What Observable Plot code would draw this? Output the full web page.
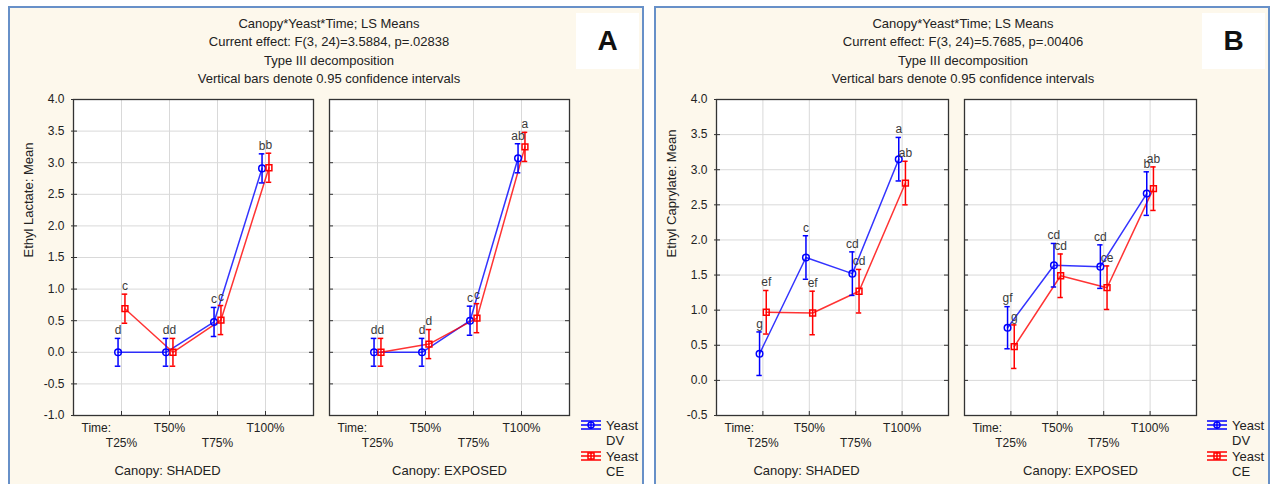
<!DOCTYPE html>
<html>
<head>
<meta charset="utf-8">
<script src="https://cdn.jsdelivr.net/npm/d3@7"></script>
<script src="https://cdn.jsdelivr.net/npm/@observablehq/plot@0.6"></script>
<style>
  body { margin: 0; background: #fff; font-family: "Liberation Sans", Arial, sans-serif; }
  #page { position: relative; width: 1274px; height: 484px; overflow: hidden; }
  .panel { position: absolute; top: 6px; height: 500px; box-sizing: border-box; border: 2px solid #6790c8; background: #fdf8ec; }
  .title { position: absolute; top: 15px; width: 420px; text-align: center; font-size: 13px; line-height: 18.4px; color: #222; }
  .tag { position: absolute; top: 13px; width: 63px; height: 56px; background: #fff; color: #111;
         font: bold 28px "Liberation Sans", Arial, sans-serif; display: flex; align-items: center; justify-content: center; }
  .sub, .legend { position: absolute; }
</style>
</head>
<body>
<div id="page"></div>
<script>
// Factor levels
const times = ["T25%", "T50%", "T75%", "T100%"];
const yeasts = ["DV", "CE"];
const canopies = ["SHADED", "EXPOSED"];

// Ethyl lactate LS means, 95% CI half-widths and significance groups
const lactateShadedDV = [0.00, 0.00, 0.48, 2.91];
const lactateShadedCE = [0.69, 0.00, 0.51, 2.92];
const lactateExposedDV = [0.00, 0.00, 0.50, 3.07];
const lactateExposedCE = [0.00, 0.13, 0.54, 3.25];
const lactateShadedDVci = [0.22, 0.22, 0.23, 0.23];
const lactateShadedCEci = [0.23, 0.22, 0.23, 0.23];
const lactateExposedDVci = [0.22, 0.22, 0.23, 0.23];
const lactateExposedCEci = [0.22, 0.23, 0.23, 0.23];
const lactateShadedDVgroup = ["d", "d", "c", "b"];
const lactateShadedCEgroup = ["c", "d", "c", "b"];
const lactateExposedDVgroup = ["d", "d", "c", "ab"];
const lactateExposedCEgroup = ["d", "d", "c", "a"];

// Ethyl caprylate LS means, 95% CI half-widths and significance groups
const caprylateShadedDV = [0.38, 1.75, 1.52, 3.15];
const caprylateShadedCE = [0.97, 0.96, 1.27, 2.81];
const caprylateExposedDV = [0.75, 1.64, 1.62, 2.66];
const caprylateExposedCE = [0.48, 1.49, 1.32, 2.73];
const caprylateShadedDVci = [0.31, 0.31, 0.31, 0.31];
const caprylateShadedCEci = [0.31, 0.31, 0.31, 0.31];
const caprylateExposedDVci = [0.30, 0.31, 0.31, 0.31];
const caprylateExposedCEci = [0.31, 0.31, 0.31, 0.31];
const caprylateShadedDVgroup = ["g", "c", "cd", "a"];
const caprylateShadedCEgroup = ["ef", "ef", "cd", "ab"];
const caprylateExposedDVgroup = ["gf", "cd", "cd", "b"];
const caprylateExposedCEgroup = ["g", "cd", "ce", "ab"];

// Axis ticks
const lactateTicks = [-1.0, -0.5, 0.0, 0.5, 1.0, 1.5, 2.0, 2.5, 3.0, 3.5, 4.0];
const caprylateTicks = [-0.5, 0.0, 0.5, 1.0, 1.5, 2.0, 2.5, 3.0, 3.5, 4.0];

const FONT = "'Liberation Sans', Arial, sans-serif";
const page = document.getElementById("page");

// Rows for one canopy sub-plot: each yeast series, dodged left/right of the time position
function buildRows(dv, dvCi, dvGroup, ce, ceCi, ceGroup) {
  const rows = [];
  const series = {DV: [dv, dvCi, dvGroup], CE: [ce, ceCi, ceGroup]};
  for (const yeast of yeasts) {
    const [m, ci, g] = series[yeast];
    times.forEach((t, i) => {
      rows.push({
        time: t, yeast, idx: i + 1,
        pos: i + 1 + (yeast === "DV" ? -0.072 : 0.072),
        mean: m[i], lo: m[i] - ci[i], hi: m[i] + ci[i], letter: g[i]
      });
    });
  }
  return rows;
}

function subplot({rows, yDomain, yTicks, frameLeft, frameRight, yLabel, canopy, canopyShift}) {
  const mL = 60, mR = 8, mT = 10, mB = 69;
  const top = 89, bottom = 484;
  const plotW = frameRight - frameLeft, plotH = bottom - top - mT - mB;
  const timeIdx = times.map((t, i) => ({label: t, idx: i + 1}));
  const cap = 0.058;
  const chart = Plot.plot({
    width: plotW + mL + mR,
    height: bottom - top,
    marginLeft: mL, marginRight: mR, marginTop: mT, marginBottom: mB,
    x: {domain: [0, 5], axis: null},
    y: {domain: yDomain, axis: null},
    color: {domain: yeasts, range: ["#0000ff", "#ff0000"]},
    symbol: {domain: yeasts, range: ["circle", "square"]},
    style: {fontFamily: FONT, fontSize: "12px", background: "transparent", overflow: "visible", color: "#222"},
    marks: [
      Plot.frame({fill: "#fff", stroke: null}),
      Plot.gridX(timeIdx.map(d => d.idx), {stroke: "#d9d9d9", strokeOpacity: 1}),
      Plot.gridY(yTicks, {stroke: "#d9d9d9", strokeOpacity: 1}),
      Plot.ruleY(yTicks, {stroke: "#333", insetLeft: yLabel ? -2 : 0, insetRight: plotW - 4}),
      Plot.ruleY(yTicks, {stroke: "#333", insetLeft: plotW - 4}),
      Plot.ruleX(timeIdx.map(d => d.idx), {stroke: "#333", insetTop: plotH - 4}),
      Plot.frame({stroke: "#333", strokeWidth: 1.3}),
      yLabel ? Plot.axisY(yTicks, {anchor: "left", tickSize: 0, tickPadding: 9, tickFormat: d => d.toFixed(1),
                                   fontSize: 12, fill: "#222", label: null}) : null,
      yLabel ? Plot.text([yLabel], {frameAnchor: "left", rotate: -90, dx: -45, fontSize: 13, fill: "#222"}) : null,
      Plot.line(rows, {x: "pos", y: "mean", z: "yeast", stroke: "yeast", strokeWidth: 1.5, strokeOpacity: 0.8}),
      Plot.ruleX(rows, {x: "pos", y1: "lo", y2: "hi", stroke: "yeast", strokeWidth: 1.5}),
      Plot.ruleY(rows, {y: "hi", x1: d => d.pos - cap, x2: d => d.pos + cap, stroke: "yeast", strokeWidth: 1.5}),
      Plot.ruleY(rows, {y: "lo", x1: d => d.pos - cap, x2: d => d.pos + cap, stroke: "yeast", strokeWidth: 1.5}),
      Plot.dot(rows, {x: "pos", y: "mean", symbol: "yeast", stroke: "yeast", r: 3.3, strokeWidth: 1.5, fill: "none"}),
      Plot.text(rows, {x: "pos", y: "hi", text: "letter", dy: -8, fontSize: 12, fill: "#3a3a3a"}),
      Plot.text(["Time:"], {frameAnchor: "bottom-left", textAnchor: "start", dx: 8, dy: 16, fontSize: 12, fill: "#222"}),
      Plot.text(timeIdx.filter(d => d.idx % 2 === 0), {x: "idx", text: "label", frameAnchor: "bottom", dy: 16, fontSize: 12, fill: "#222"}),
      Plot.text(timeIdx.filter(d => d.idx % 2 === 1), {x: "idx", text: "label", frameAnchor: "bottom", dy: 31, fontSize: 12, fill: "#222"}),
      Plot.text([`Canopy: ${canopy}`], {frameAnchor: "bottom", dx: canopyShift, dy: 59, fontSize: 13, fill: "#222"})
    ]
  });
  chart.classList.add("sub");
  chart.style.left = (frameLeft - mL) + "px";
  chart.style.top = top + "px";
  return chart;
}

function legend(left) {
  const svg = d3.create("svg").attr("class", "legend").attr("width", 70).attr("height", 66)
    .style("left", left + "px").style("top", "415px").style("font-family", FONT);
  const entries = [{yeast: "DV", color: "#0000ff", y: 10}, {yeast: "CE", color: "#ff0000", y: 41}];
  for (const e of entries) {
    const g = svg.append("g").attr("stroke", e.color).attr("stroke-width", 1.5).attr("fill", "none");
    for (const dy of [-4, 0, 4]) g.append("line").attr("x1", 1).attr("x2", 21).attr("y1", e.y + dy).attr("y2", e.y + dy);
    g.append("line").attr("x1", 11).attr("x2", 11).attr("y1", e.y - 4).attr("y2", e.y + 4);
    if (e.yeast === "DV") g.append("circle").attr("cx", 11).attr("cy", e.y).attr("r", 3);
    else g.append("rect").attr("x", 8).attr("y", e.y - 3).attr("width", 6).attr("height", 6);
    svg.append("text").attr("x", 26).attr("y", e.y).attr("dy", "0.35em").attr("font-size", 13).attr("fill", "#222").text("Yeast");
    svg.append("text").attr("x", 26).attr("y", e.y + 15).attr("dy", "0.35em").attr("font-size", 13).attr("fill", "#222").text(e.yeast);
  }
  return svg.node();
}

function panel({left, width, tag, titleCenter, effect, yLabel, yDomain, yTicks, frames, data, legendLeft}) {
  const box = document.createElement("div");
  box.className = "panel";
  box.style.left = left + "px";
  box.style.width = width + "px";
  page.appendChild(box);

  const title = document.createElement("div");
  title.className = "title";
  title.style.left = (titleCenter - 210) + "px";
  title.innerHTML = ["Canopy*Yeast*Time; LS Means", `Current effect: ${effect}`, "Type III decomposition",
                     "Vertical bars denote 0.95 confidence intervals"].join("<br>");
  page.appendChild(title);

  const t = document.createElement("div");
  t.className = "tag";
  t.style.left = (left + width - 68) + "px";
  t.textContent = tag;
  page.appendChild(t);

  canopies.forEach((c, k) => {
    page.appendChild(subplot({
      rows: data[k], yDomain, yTicks,
      frameLeft: frames[k][0], frameRight: frames[k][1],
      yLabel: k === 0 ? yLabel : null, canopy: c, canopyShift: k === 0 ? -26 : 0
    }));
  });
  page.appendChild(legend(legendLeft));
}

panel({
  left: 8, width: 636, tag: "A", titleCenter: 329, effect: "F(3, 24)=3.5884, p=.02838",
  yLabel: "Ethyl Lactate: Mean", yDomain: [-1, 4], yTicks: lactateTicks,
  frames: [[73, 313], [329, 569]], legendLeft: 580,
  data: [
    buildRows(lactateShadedDV, lactateShadedDVci, lactateShadedDVgroup, lactateShadedCE, lactateShadedCEci, lactateShadedCEgroup),
    buildRows(lactateExposedDV, lactateExposedDVci, lactateExposedDVgroup, lactateExposedCE, lactateExposedCEci, lactateExposedCEgroup)
  ]
});

panel({
  left: 654, width: 616, tag: "B", titleCenter: 963, effect: "F(3, 24)=5.7685, p=.00406",
  yLabel: "Ethyl Caprylate: Mean", yDomain: [-0.5, 4], yTicks: caprylateTicks,
  frames: [[716, 948], [964, 1196]], legendLeft: 1206,
  data: [
    buildRows(caprylateShadedDV, caprylateShadedDVci, caprylateShadedDVgroup, caprylateShadedCE, caprylateShadedCEci, caprylateShadedCEgroup),
    buildRows(caprylateExposedDV, caprylateExposedDVci, caprylateExposedDVgroup, caprylateExposedCE, caprylateExposedCEci, caprylateExposedCEgroup)
  ]
});
</script>
</body>
</html>
